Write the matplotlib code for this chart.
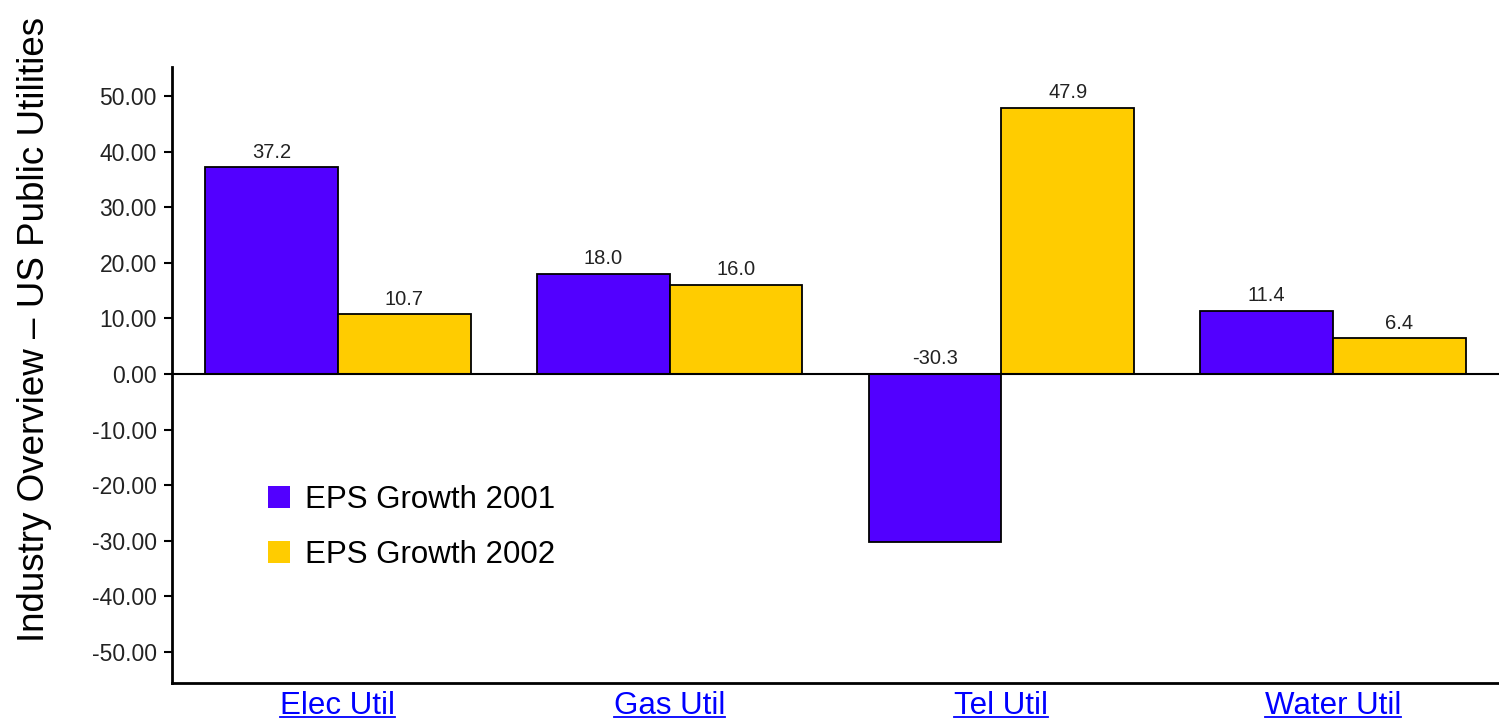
import matplotlib.pyplot as plt
import numpy as np

plt.rcParams['font.family'] = ['Liberation Sans', 'DejaVu Sans']
plt.rcParams['axes.unicode_minus'] = False

categories = ['Elec Util', 'Gas Util', 'Tel Util', 'Water Util']
eps2001 = [37.2, 18.0, -30.3, 11.4]
eps2002 = [10.7, 16.0, 47.9, 6.4]
yticks = [-50, -40, -30, -20, -10, 0, 10, 20, 30, 40, 50]

fig = plt.figure(figsize=(14.99, 7.23), dpi=100)
ax = fig.add_axes([0.1147, 0.0553, 0.8853, 0.8520])

x = np.arange(len(categories))
w = 0.4
b1 = ax.bar(x - w / 2, eps2001, w, color='#5200FF', edgecolor='black', linewidth=1.3,
            label='EPS Growth 2001')
b2 = ax.bar(x + w / 2, eps2002, w, color='#FFCC00', edgecolor='black', linewidth=1.3,
            label='EPS Growth 2002')

# value labels always sit above the zero line / bar top
for bars, vals in [(b1, eps2001), (b2, eps2002)]:
    for rect, v in zip(bars, vals):
        top = max(v, 0)
        ax.annotate('%.1f' % v, (rect.get_x() + rect.get_width() / 2, top),
                    xytext=(0, 4), textcoords='offset points',
                    ha='center', va='bottom', fontsize=14.5, color='#222222')

ax.axhline(0, color='black', linewidth=1.5, zorder=1)

ax.set_xlim(-0.5, 3.5)
ax.set_ylim(-55.6, 55.2)
ax.set_yticks(yticks)
ax.set_yticklabels(['%.2f' % t for t in yticks], fontsize=16.5, color='#222222')
ax.tick_params(axis='y', direction='out', length=6, width=1.5, pad=5)
ax.set_xticks(x)
ax.set_xticklabels(categories, fontsize=22.5, color='#0000FF')
ax.tick_params(axis='x', length=0, pad=6)

for s in ['top', 'right']:
    ax.spines[s].set_visible(False)
for s in ['left', 'bottom']:
    ax.spines[s].set_linewidth(2)

fig.text(0.023, 0.545, 'Industry Overview \u2013 US Public Utilities', rotation=90,
         ha='center', va='center', fontsize=26.5)

ax.legend(loc='upper left', bbox_to_anchor=(0.051, 0.367), frameon=False, fontsize=22.5,
          handlelength=0.7, handleheight=0.7, handletextpad=0.5, labelspacing=0.8)
for h in ax.get_legend().legend_handles:
    h.set_edgecolor('none')

# underline the category labels like links
fig.canvas.draw()
renderer = fig.canvas.get_renderer()
inv = fig.transFigure.inverted()
for lbl in ax.get_xticklabels():
    bb = lbl.get_window_extent(renderer).transformed(inv)
    fig.add_artist(plt.Line2D([bb.x0, bb.x1], [bb.y0 + 0.006, bb.y0 + 0.006],
                              color='#0000FF', linewidth=1.3))

fig.savefig('out.png', dpi=100)
